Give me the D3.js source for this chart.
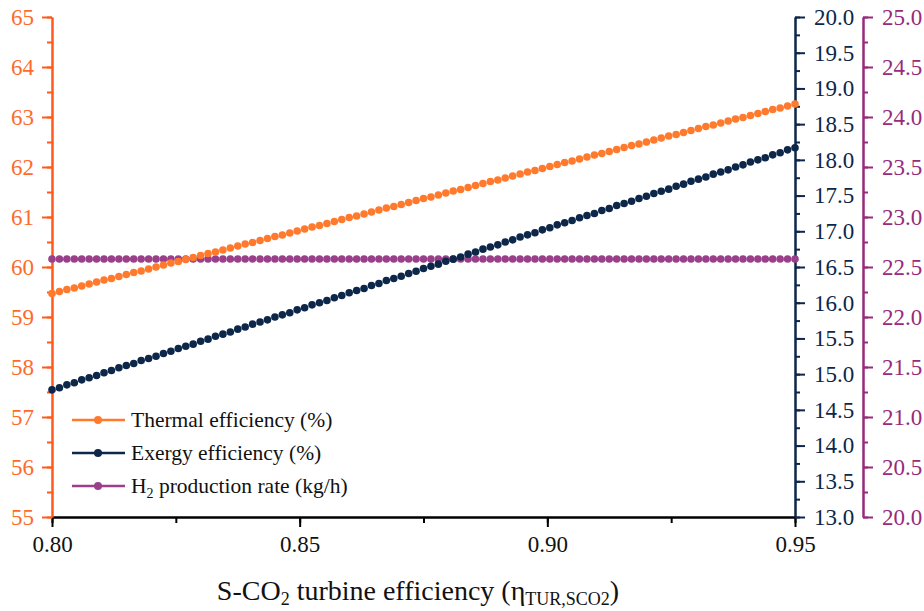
<!DOCTYPE html>
<html>
<head>
<meta charset="utf-8">
<script src="https://cdn.jsdelivr.net/npm/d3@7"></script>
<style>
  body { margin: 0; background: #fff; }
  svg text { font-family: 'Liberation Serif', 'DejaVu Serif', serif !important; }
</style>
</head>
<body>
<svg width="924" height="611"></svg>
<script>
// turbine efficiency (x), 101 points
const turbineEff = [
  0.8000,0.8015,0.8030,0.8045,0.8060,0.8075,0.8090,0.8105,0.8120,0.8135,
  0.8150,0.8165,0.8180,0.8195,0.8210,0.8225,0.8240,0.8255,0.8270,0.8285,
  0.8300,0.8315,0.8330,0.8345,0.8360,0.8375,0.8390,0.8405,0.8420,0.8435,
  0.8450,0.8465,0.8480,0.8495,0.8510,0.8525,0.8540,0.8555,0.8570,0.8585,
  0.8600,0.8615,0.8630,0.8645,0.8660,0.8675,0.8690,0.8705,0.8720,0.8735,
  0.8750,0.8765,0.8780,0.8795,0.8810,0.8825,0.8840,0.8855,0.8870,0.8885,
  0.8900,0.8915,0.8930,0.8945,0.8960,0.8975,0.8990,0.9005,0.9020,0.9035,
  0.9050,0.9065,0.9080,0.9095,0.9110,0.9125,0.9140,0.9155,0.9170,0.9185,
  0.9200,0.9215,0.9230,0.9245,0.9260,0.9275,0.9290,0.9305,0.9320,0.9335,
  0.9350,0.9365,0.9380,0.9395,0.9410,0.9425,0.9440,0.9455,0.9470,0.9485,
  0.9500
];

// thermal efficiency (%), left axis
const thermalEff = [
  59.47,59.51,59.55,59.58,59.62,59.66,59.70,59.74,59.77,59.81,
  59.85,59.89,59.92,59.96,60.00,60.04,60.08,60.11,60.15,60.19,
  60.23,60.27,60.30,60.34,60.38,60.42,60.46,60.49,60.53,60.57,
  60.61,60.64,60.68,60.72,60.76,60.80,60.83,60.87,60.91,60.95,
  60.99,61.02,61.06,61.10,61.14,61.18,61.21,61.25,61.29,61.33,
  61.37,61.40,61.44,61.48,61.52,61.55,61.59,61.63,61.67,61.71,
  61.74,61.78,61.82,61.86,61.90,61.93,61.97,62.01,62.05,62.09,
  62.12,62.16,62.20,62.24,62.27,62.31,62.35,62.39,62.43,62.46,
  62.50,62.54,62.58,62.62,62.65,62.69,62.73,62.77,62.81,62.84,
  62.88,62.92,62.96,62.99,63.03,63.07,63.11,63.15,63.18,63.22,
  63.26
];

// exergy efficiency (%), first right axis
const exergyEff = [
  14.78,14.81,14.85,14.88,14.92,14.95,14.98,15.02,15.05,15.09,
  15.12,15.15,15.19,15.22,15.25,15.29,15.32,15.36,15.39,15.42,
  15.46,15.49,15.53,15.56,15.59,15.63,15.66,15.70,15.73,15.76,
  15.80,15.83,15.86,15.90,15.93,15.97,16.00,16.03,16.07,16.10,
  16.14,16.17,16.20,16.24,16.27,16.31,16.34,16.37,16.41,16.44,
  16.48,16.51,16.54,16.58,16.61,16.64,16.68,16.71,16.75,16.78,
  16.81,16.85,16.88,16.92,16.95,16.98,17.02,17.05,17.09,17.12,
  17.15,17.19,17.22,17.25,17.29,17.32,17.36,17.39,17.42,17.46,
  17.49,17.53,17.56,17.59,17.63,17.66,17.70,17.73,17.76,17.80,
  17.83,17.86,17.90,17.93,17.97,18.00,18.03,18.07,18.10,18.14,
  18.17
];

// H2 production rate (kg/h), second right axis
const h2Rate = [
  22.58,22.58,22.58,22.58,22.58,22.58,22.58,22.58,22.58,22.58,
  22.58,22.58,22.58,22.58,22.58,22.58,22.58,22.58,22.58,22.58,
  22.58,22.58,22.58,22.58,22.58,22.58,22.58,22.58,22.58,22.58,
  22.58,22.58,22.58,22.58,22.58,22.58,22.58,22.58,22.58,22.58,
  22.58,22.58,22.58,22.58,22.58,22.58,22.58,22.58,22.58,22.58,
  22.58,22.58,22.58,22.58,22.58,22.58,22.58,22.58,22.58,22.58,
  22.58,22.58,22.58,22.58,22.58,22.58,22.58,22.58,22.58,22.58,
  22.58,22.58,22.58,22.58,22.58,22.58,22.58,22.58,22.58,22.58,
  22.58,22.58,22.58,22.58,22.58,22.58,22.58,22.58,22.58,22.58,
  22.58,22.58,22.58,22.58,22.58,22.58,22.58,22.58,22.58,22.58,
  22.58
];

const xTicks = [0.80, 0.85, 0.90, 0.95];
const leftTicks = [55, 56, 57, 58, 59, 60, 61, 62, 63, 64, 65];
const exergyTicks = [13.0, 13.5, 14.0, 14.5, 15.0, 15.5, 16.0, 16.5, 17.0, 17.5, 18.0, 18.5, 19.0, 19.5, 20.0];
const h2Ticks = [20.0, 20.5, 21.0, 21.5, 22.0, 22.5, 23.0, 23.5, 24.0, 24.5, 25.0];

const orange = '#ff7a2c', orangeAxis = '#ff5a1a';
const navy = '#0c2749';
const purple = '#9a3f8a', purpleAxis = '#982a7c';

const svg = d3.select('svg');
const plotLeft = 52, plotRight = 795, plotTop = 17, plotBottom = 517;
const h2AxisX = 863;

const x = d3.scaleLinear().domain([0.80, 0.95]).range([plotLeft, plotRight]);
const yLeft = d3.scaleLinear().domain([55, 65]).range([plotBottom, plotTop]);
const yEx = d3.scaleLinear().domain([13, 20]).range([plotBottom, plotTop]);
const yH2 = d3.scaleLinear().domain([20, 25]).range([plotBottom, plotTop]);

function styleAxis(g, color) {
  g.attr('font-family', null).attr('font-size', null);
  g.selectAll('path.domain').attr('stroke', color).attr('stroke-width', 2);
  g.selectAll('.tick line').attr('stroke', color).attr('stroke-width', 2);
  g.selectAll('.tick text').attr('fill', color).style('font-size', '23px');
}

function minorTicks(lo, hi, step) {
  const out = [];
  for (let v = lo; v <= hi + 1e-9; v += step) out.push(+v.toFixed(4));
  return out;
}

// x axis
const gx = svg.append('g').attr('transform', `translate(0,${plotBottom})`);
gx.call(d3.axisBottom(x).tickValues(minorTicks(0.8, 0.95, 0.025)).tickSize(6).tickFormat('').tickSizeOuter(0));
styleAxis(gx, '#000');
const gx2 = svg.append('g').attr('transform', `translate(0,${plotBottom})`);
gx2.call(d3.axisBottom(x).tickValues(xTicks).tickSize(10).tickPadding(9).tickFormat(d3.format('.2f')).tickSizeOuter(0));
styleAxis(gx2, '#000');
gx2.selectAll('.tick text').attr('fill', '#111');

// left axis
const gl = svg.append('g').attr('transform', `translate(${plotLeft},0)`);
gl.call(d3.axisLeft(yLeft).tickValues(minorTicks(55, 65, 0.5)).tickSize(5).tickFormat('').tickSizeOuter(0));
styleAxis(gl, orangeAxis);
const gl2 = svg.append('g').attr('transform', `translate(${plotLeft},0)`);
gl2.call(d3.axisLeft(yLeft).tickValues(leftTicks).tickSize(10).tickPadding(8).tickFormat(d3.format('d')).tickSizeOuter(0));
styleAxis(gl2, orangeAxis);
gl2.selectAll('.tick text').attr('fill', '#ff6a2a');

// exergy axis
const ge = svg.append('g').attr('transform', `translate(${plotRight},0)`);
ge.call(d3.axisRight(yEx).tickValues(minorTicks(13, 20, 0.25)).tickSize(5).tickFormat('').tickSizeOuter(0));
styleAxis(ge, navy);
const ge2 = svg.append('g').attr('transform', `translate(${plotRight},0)`);
ge2.call(d3.axisRight(yEx).tickValues(exergyTicks).tickSize(10).tickPadding(9).tickFormat(d3.format('.1f')).tickSizeOuter(0));
styleAxis(ge2, navy);

// H2 axis
const gh = svg.append('g').attr('transform', `translate(${h2AxisX},0)`);
gh.call(d3.axisRight(yH2).tickValues(minorTicks(20, 25, 0.25)).tickSize(5).tickFormat('').tickSizeOuter(0));
styleAxis(gh, purpleAxis);
const gh2 = svg.append('g').attr('transform', `translate(${h2AxisX},0)`);
gh2.call(d3.axisRight(yH2).tickValues(h2Ticks).tickSize(10).tickPadding(9).tickFormat(d3.format('.1f')).tickSizeOuter(0));
styleAxis(gh2, purpleAxis);

// series
const series = [
  { name: 'h2', values: h2Rate, y: yH2, color: purple },
  { name: 'thermal', values: thermalEff, y: yLeft, color: orange },
  { name: 'exergy', values: exergyEff, y: yEx, color: navy }
];

series.forEach(s => {
  svg.append('g')
    .selectAll('circle')
    .data(turbineEff)
    .enter().append('circle')
    .attr('cx', d => x(d))
    .attr('cy', (d, i) => s.y(s.values[i]))
    .attr('r', 3.8)
    .attr('fill', s.color);
});

// legend
const legendItems = [
  { label: 'Thermal efficiency (%)', color: orange },
  { label: 'Exergy efficiency (%)', color: navy },
  { label: 'H2', color: purple }
];
const legend = svg.append('g');
legendItems.forEach((item, i) => {
  const yy = 420 + i * 33;
  legend.append('line').attr('x1', 72).attr('x2', 125).attr('y1', yy).attr('y2', yy)
    .attr('stroke', item.color).attr('stroke-width', 2.5);
  legend.append('circle').attr('cx', 98).attr('cy', yy).attr('r', 4).attr('fill', item.color);
  const t = legend.append('text').attr('x', 131).attr('y', yy + 7)
    .style('font-size', '21.5px').attr('fill', '#111');
  if (i === 2) {
    t.append('tspan').text('H');
    t.append('tspan').text('2').style('font-size', '14px').attr('dy', 5);
    t.append('tspan').text(' production rate (kg/h)').attr('dy', -5);
  } else {
    t.text(item.label);
  }
});

// x title
const title = svg.append('text').attr('x', 418).attr('y', 600)
  .attr('text-anchor', 'middle').style('font-size', '28px').attr('fill', '#111');
title.append('tspan').text('S-CO');
title.append('tspan').text('2').style('font-size', '18px').attr('dy', 5);
title.append('tspan').text(' turbine efficiency (η').attr('dy', -5);
title.append('tspan').text('TUR,SCO2').style('font-size', '18px').attr('dy', 5);
title.append('tspan').text(')').attr('dy', -5);
</script>
</body>
</html>
